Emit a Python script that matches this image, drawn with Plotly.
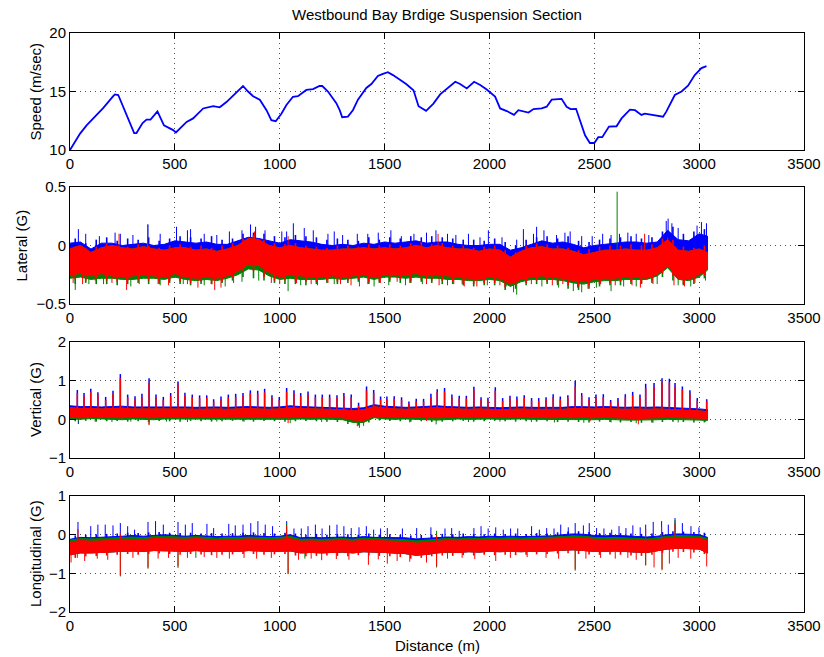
import plotly.graph_objects as go

# ---------------- data ----------------
x_ticks = [0, 500, 1000, 1500, 2000, 2500, 3000, 3500]

speed_dist = [0,48,79,127,159,206,214,230,254,286,
              306,317,346,365,384,417,429,448,476,492,
              505,524,556,587,611,635,683,714,746,786,
              825,849,873,905,937,960,981,1008,1032,1063,
              1087,1127,1159,1190,1203,1230,1270,1286,1298,1325,
              1349,1373,1397,1413,1437,1468,1492,1516,1540,1571,
              1603,1638,1662,1698,1733,1765,1797,1837,1860,1892,
              1927,1956,1987,2027,2051,2083,2117,2138,2186,2210,
              2249,2273,2297,2344,2368,2387,2413,2432,2456,2479,
              2500,2519,2538,2570,2606,2630,2670,2694,2725,2741,
              2781,2828,2844,2884,2916,2947,2979,3011,3035]
speed_val = [10.0,11.4,12.1,13.0,13.6,14.6,14.75,14.7,13.7,12.3,
             11.45,11.45,12.3,12.6,12.6,13.3,12.85,12.1,11.85,11.7,
             11.5,11.85,12.4,12.7,13.1,13.55,13.75,13.65,14.1,14.75,
             15.47,15.0,14.6,14.3,13.4,12.55,12.46,13.1,13.85,14.55,
             14.6,15.13,15.2,15.47,15.47,15.0,14.0,13.4,12.8,12.85,
             13.4,14.3,14.85,15.3,15.64,16.33,16.5,16.65,16.4,16.0,
             15.64,15.1,13.74,13.35,13.97,14.75,15.26,15.83,15.64,15.26,
             15.83,15.55,15.17,14.56,13.55,13.33,13.0,13.4,13.2,13.5,
             13.55,13.7,14.3,14.37,13.7,13.5,13.52,12.55,11.26,10.6,
             10.6,11.1,11.1,12.0,12.03,12.7,13.45,13.4,13.0,13.1,
             13.0,12.85,13.3,14.7,15.0,15.5,16.4,17.0,17.17]

# distances at which the envelopes of the noisy traces were read
env_dist = [0,50,100,150,200,250,300,350,400,450,
            500,550,600,650,700,750,800,850,900,950,
            1000,1050,1100,1150,1200,1250,1300,1350,1400,1450,
            1500,1550,1600,1650,1700,1750,1800,1850,1900,1950,
            2000,2050,2100,2150,2200,2250,2300,2350,2400,2450,
            2500,2550,2600,2650,2700,2750,2800,2850,2900,2950,
            3000,3040]
# distances (between envelope points) at which the fringe peaks were read
fringe_dist = [25,75,125,175,225,275,325,375,425,475,
               525,575,625,675,725,775,825,875,925,975,
               1025,1075,1125,1175,1225,1275,1325,1375,1425,1475,
               1525,1575,1625,1675,1725,1775,1825,1875,1925,1975,
               2025,2075,2125,2175,2225,2275,2325,2375,2425,2475,
               2525,2575,2625,2675,2725,2775,2825,2875,2925,2975,
               3025]

# ---- Lateral (G) ----
lat_blue_hi = [0.02,0.03,-0.03,0.02,0.02,0.0,0.01,0.02,0.0,0.01,
               0.04,0.03,0.02,0.03,0.01,0.01,0.04,0.07,0.06,0.04,
               0.02,0.05,0.04,0.03,0.01,0.0,0.01,0.0,0.02,0.01,
               0.03,0.02,0.03,0.04,0.02,0.03,0.03,0.01,0.0,0.0,
               0.01,0.01,-0.04,-0.02,0.01,0.04,0.02,0.03,0.01,-0.02,
               0.0,0.01,0.02,0.03,0.03,0.02,0.03,0.13,0.05,0.04,
               0.1,0.08]
lat_red_hi = [-0.03,0.0,-0.06,-0.02,0.0,-0.02,-0.03,-0.01,-0.03,-0.04,
              -0.02,-0.02,-0.04,-0.03,-0.05,-0.03,0.0,0.06,0.05,0.0,
              -0.02,0.0,-0.02,-0.03,-0.04,-0.04,-0.03,-0.03,-0.02,-0.03,
              -0.02,-0.03,-0.02,0.0,-0.02,0.0,-0.02,-0.03,-0.03,-0.05,
              -0.03,-0.04,-0.1,-0.05,-0.02,-0.01,-0.03,-0.03,-0.05,-0.08,
              -0.06,-0.04,-0.04,-0.03,-0.04,-0.04,-0.02,0.05,-0.04,-0.05,
              -0.03,-0.06]
lat_red_lo = [-0.25,-0.24,-0.26,-0.24,-0.26,-0.27,-0.26,-0.25,-0.26,-0.27,
              -0.24,-0.27,-0.28,-0.27,-0.28,-0.26,-0.22,-0.16,-0.17,-0.23,
              -0.27,-0.25,-0.26,-0.27,-0.27,-0.26,-0.27,-0.26,-0.25,-0.27,
              -0.25,-0.25,-0.25,-0.24,-0.26,-0.25,-0.26,-0.27,-0.28,-0.29,
              -0.27,-0.28,-0.33,-0.29,-0.27,-0.26,-0.27,-0.28,-0.3,-0.31,
              -0.29,-0.28,-0.28,-0.27,-0.27,-0.28,-0.25,-0.17,-0.28,-0.29,
              -0.25,-0.2]
lat_green_lo = [-0.28,-0.27,-0.29,-0.28,-0.28,-0.29,-0.29,-0.28,-0.28,-0.29,
                -0.27,-0.29,-0.3,-0.29,-0.3,-0.28,-0.25,-0.2,-0.21,-0.26,
                -0.29,-0.28,-0.29,-0.29,-0.29,-0.28,-0.29,-0.28,-0.27,-0.29,
                -0.27,-0.27,-0.28,-0.27,-0.28,-0.28,-0.29,-0.29,-0.3,-0.3,
                -0.29,-0.3,-0.35,-0.31,-0.29,-0.29,-0.29,-0.3,-0.32,-0.33,
                -0.31,-0.3,-0.3,-0.29,-0.29,-0.29,-0.26,-0.19,-0.29,-0.3,
                -0.27,-0.21]
lat_blue_fringe = [0.06,0.02,0.05,0.07,0.04,0.06,0.05,0.07,0.04,0.06,
                   0.08,0.07,0.06,0.08,0.05,0.06,0.1,0.11,0.1,0.08,
                   0.07,0.09,0.08,0.07,0.05,0.06,0.05,0.04,0.07,0.05,
                   0.07,0.06,0.08,0.07,0.08,0.07,0.06,0.05,0.05,0.04,
                   0.06,0.03,0.0,0.05,0.07,0.08,0.06,0.08,0.04,0.03,
                   0.05,0.06,0.07,0.08,0.06,0.07,0.12,0.16,0.1,0.12,
                   0.14]
lat_red_up_fringe = [0.0,-0.02,-0.01,0.02,0.0,-0.01,0.01,0.0,-0.02,0.0,
                     0.01,-0.01,0.0,-0.02,0.0,0.02,0.06,0.09,0.05,0.02,
                     0.01,0.02,0.0,-0.01,-0.02,0.0,0.0,-0.01,0.01,0.0,
                     0.01,0.0,0.02,0.03,0.01,0.02,0.0,0.0,-0.02,-0.01,
                     0.0,-0.04,-0.06,0.0,0.02,0.01,0.0,-0.02,-0.04,-0.03,
                     -0.01,0.0,0.0,0.01,0.0,0.01,0.06,0.05,-0.01,-0.02,
                     0.0]
lat_red_down_fringe = [-0.29,-0.3,-0.28,-0.3,-0.31,-0.3,-0.29,-0.3,-0.31,-0.3,
                       -0.31,-0.32,-0.31,-0.33,-0.31,-0.28,-0.22,-0.22,-0.27,-0.3,
                       -0.3,-0.3,-0.31,-0.31,-0.3,-0.31,-0.3,-0.29,-0.31,-0.3,
                       -0.29,-0.29,-0.3,-0.29,-0.3,-0.3,-0.31,-0.32,-0.33,-0.32,
                       -0.32,-0.36,-0.34,-0.32,-0.3,-0.31,-0.32,-0.34,-0.35,-0.34,
                       -0.33,-0.32,-0.31,-0.31,-0.32,-0.3,-0.24,-0.26,-0.33,-0.3,
                       -0.26]
lat_green_down_fringe = [-0.33,-0.32,-0.33,-0.33,-0.34,-0.33,-0.32,-0.33,-0.33,-0.32,
                         -0.33,-0.34,-0.33,-0.33,-0.32,-0.3,-0.27,-0.28,-0.3,-0.32,
                         -0.33,-0.33,-0.34,-0.33,-0.32,-0.33,-0.32,-0.31,-0.33,-0.32,
                         -0.31,-0.32,-0.32,-0.31,-0.32,-0.33,-0.33,-0.34,-0.35,-0.34,
                         -0.34,-0.38,-0.37,-0.34,-0.33,-0.33,-0.34,-0.37,-0.38,-0.37,
                         -0.35,-0.34,-0.34,-0.33,-0.33,-0.32,-0.27,-0.3,-0.34,-0.33,
                         -0.28]
lat_spike_base = -0.1
lat_blue_spike_x = [40,75,140,215,240,300,372,430,508,560,575,640,700,760,820,861,885,930,
                    1010,1033,1065,1117,1160,1230,1260,1300,1370,1420,1470,1530,1580,1640,1700,
                    1745,1800,1840,1900,1955,1995,2060,2130,2162,2210,2225,2260,2320,2360,2385,
                    2440,2490,2540,2580,2620,2660,2700,2760,2843,2852,2870,2900,2990,3011,3035]
lat_blue_spike_y = [0.14,0.1,0.08,0.11,0.1,0.09,0.18,0.1,0.16,0.13,0.14,0.1,0.09,0.12,0.13,0.18,0.16,0.13,
                    0.12,0.12,0.19,0.15,0.13,0.1,0.12,0.09,0.1,0.1,0.11,0.13,0.08,0.1,0.11,
                    0.13,0.1,0.09,0.1,0.07,0.13,0.07,0.05,0.14,0.1,0.16,0.13,0.09,0.11,0.12,
                    0.08,0.08,0.1,0.09,0.1,0.11,0.1,0.09,0.21,0.23,0.19,0.15,0.17,0.2,0.19]
lat_green_spike_x = [25,90,160,290,370,430,540,640,740,820,900,1040,1100,1180,1260,1380,1450,1520,
                     1600,1680,1800,1870,1990,2080,2130,2250,2330,2400,2440,2510,2580,2609,2640,
                     2700,2800,2900,2960,3030]
lat_green_spike_y = [-0.38,-0.33,-0.33,-0.35,0.18,-0.34,-0.33,-0.34,-0.35,-0.31,-0.3,-0.39,-0.34,-0.34,
                     -0.33,-0.35,-0.35,-0.34,-0.34,-0.33,-0.34,-0.33,-0.34,-0.35,-0.42,-0.35,-0.36,
                     -0.39,-0.4,-0.36,-0.39,0.46,-0.35,-0.35,-0.33,-0.34,-0.35,-0.3]
lat_red_spike_x = [15,60,120,200,234,270,330,370,420,470,560,610,690,720,780,880,960,1000,1040,1080,
                   1150,1230,1290,1340,1420,1480,1560,1620,1700,1755,1760,1830,1880,1940,2050,2115,
                   2200,2300,2350,2420,2470,2530,2600,2680,2720,2740,2780,2850,2880,2930,2980]
lat_red_spike_y = [-0.32,-0.33,-0.3,-0.32,0.1,-0.38,-0.33,0.08,-0.33,-0.34,-0.33,-0.36,-0.38,-0.36,
                   -0.32,0.12,-0.32,-0.33,0.08,-0.32,-0.33,-0.32,-0.33,-0.34,-0.33,-0.32,-0.31,-0.32,
                   -0.33,0.1,-0.34,-0.33,-0.35,-0.35,-0.34,-0.4,-0.33,-0.34,-0.33,-0.36,-0.37,-0.33,
                   -0.34,-0.34,-0.36,0.1,-0.33,0.07,-0.34,-0.35,-0.32]

# ---- Vertical (G) ----
ver_blue_hi = [0.35,0.33,0.33,0.32,0.33,0.34,0.32,0.32,0.33,0.32,
               0.33,0.32,0.31,0.32,0.32,0.31,0.32,0.33,0.32,0.31,
               0.32,0.35,0.33,0.32,0.31,0.31,0.3,0.28,0.3,0.38,
               0.34,0.32,0.31,0.32,0.33,0.35,0.33,0.32,0.31,0.32,
               0.31,0.3,0.31,0.32,0.31,0.31,0.32,0.31,0.33,0.32,
               0.32,0.33,0.32,0.31,0.32,0.31,0.32,0.31,0.3,0.29,
               0.27,0.25]
ver_red_hi = [0.3,0.28,0.28,0.27,0.28,0.29,0.27,0.27,0.28,0.27,
              0.28,0.27,0.26,0.27,0.27,0.26,0.27,0.28,0.27,0.26,
              0.27,0.3,0.28,0.27,0.26,0.26,0.25,0.22,0.25,0.33,
              0.29,0.27,0.26,0.27,0.28,0.3,0.28,0.27,0.26,0.27,
              0.26,0.25,0.26,0.27,0.26,0.26,0.27,0.26,0.28,0.27,
              0.27,0.28,0.27,0.26,0.27,0.26,0.27,0.26,0.25,0.24,
              0.22,0.2]
ver_red_lo = [0.05,0.04,0.05,0.06,0.05,0.04,0.06,0.05,0.04,0.06,
              0.05,0.06,0.05,0.06,0.05,0.06,0.05,0.05,0.06,0.05,
              0.04,0.05,0.06,0.05,0.06,0.05,0.04,-0.02,-0.03,0.08,
              0.06,0.05,0.06,0.05,0.05,0.04,0.05,0.06,0.05,0.05,
              0.06,0.05,0.05,0.06,0.05,0.05,0.04,0.05,0.04,0.05,
              0.04,0.05,0.04,0.03,0.02,0.03,0.04,0.05,0.04,0.04,
              0.03,0.02]
ver_green_lo = [0.01,0.0,0.02,0.01,0.0,-0.01,0.01,0.0,-0.01,0.01,
                0.0,0.01,0.0,0.01,0.0,0.01,0.0,0.01,0.01,0.0,
                0.0,0.0,0.01,0.0,0.01,0.0,-0.01,-0.08,-0.08,0.04,
                0.01,0.0,0.01,0.0,-0.01,-0.02,0.0,0.01,0.0,0.0,
                0.01,0.0,0.0,0.01,0.0,0.0,-0.01,0.0,-0.01,-0.01,
                -0.01,0.0,-0.01,-0.02,-0.02,-0.02,-0.01,0.0,-0.01,-0.01,
                -0.02,-0.03]
ver_green_down_fringe = [-0.05,-0.04,-0.06,-0.05,-0.04,-0.06,-0.05,-0.07,-0.04,-0.05,
                         -0.06,-0.04,-0.05,-0.06,-0.05,-0.04,-0.05,-0.06,-0.04,-0.05,
                         -0.06,-0.05,-0.04,-0.05,-0.06,-0.07,-0.12,-0.16,-0.08,-0.03,
                         -0.04,-0.05,-0.06,-0.05,-0.07,-0.06,-0.05,-0.04,-0.06,-0.05,
                         -0.04,-0.05,-0.06,-0.05,-0.06,-0.05,-0.07,-0.06,-0.07,-0.08,
                         -0.06,-0.07,-0.08,-0.07,-0.09,-0.08,-0.07,-0.06,-0.07,-0.08,
                         -0.08]
ver_spike_base = 0.15
ver_spike_x = [35,67,99,133,170,205,240,275,310,343,
               377,410,445,480,515,548,583,618,652,685,
               720,755,790,825,860,895,928,963,998,1033,
               1068,1100,1135,1170,1203,1238,1273,1306,1341,1376,
               1414,1448,1481,1511,1546,
               1581,1616,1651,1686,1721,
               1751,1786,1821,1856,1890,
               1926,1960,1993,2028,2063,
               2098,2131,2166,2201,2235,
               2270,2304,2338,2374,2409,
               2440,2475,2508,2543,2578,
               2613,2648,2683,2718,2745,
               2785,2823,2858,2885,2920,
               2956,2991,3036]
ver_blue_spike_y = [0.76,0.68,0.79,0.70,0.58,0.74,1.17,0.64,0.60,0.66,
                    1.06,0.64,0.58,0.68,0.98,0.69,0.64,0.62,0.62,0.52,
                    0.59,0.64,0.66,0.68,0.75,0.74,0.79,0.62,0.58,0.81,
                    0.75,0.68,0.72,0.64,0.64,0.64,0.62,0.68,0.64,0.43,
                    0.85,0.76,0.59,0.59,0.6,
                    0.57,0.46,0.53,0.53,0.66,
                    0.78,0.81,0.64,0.61,0.61,
                    0.84,0.57,0.56,0.83,0.55,
                    0.61,0.59,0.62,0.55,0.55,
                    0.57,0.65,0.59,0.62,1.0,
                    0.68,0.57,0.64,0.65,0.5,
                    0.55,0.65,0.71,0.64,0.92,
                    0.94,1.06,1.05,0.94,0.85,
                    0.75,0.55,0.52]
ver_red_spike_y = [0.68,0.6,0.7,0.64,0.5,0.66,1.06,0.57,0.53,0.58,
                   0.95,0.57,0.5,0.6,0.9,0.62,0.57,0.55,0.55,0.46,
                   0.52,0.56,0.58,0.62,0.68,0.66,0.7,0.55,0.5,0.72,
                   0.68,0.6,0.64,0.57,0.57,0.56,0.55,0.6,0.57,0.36,
                   0.75,0.68,0.52,0.52,0.53,
                   0.5,0.4,0.46,0.46,0.58,
                   0.7,0.72,0.57,0.54,0.54,
                   0.75,0.5,0.49,0.74,0.48,
                   0.54,0.52,0.55,0.48,0.48,
                   0.5,0.58,0.52,0.55,0.85,
                   0.6,0.5,0.56,0.57,0.44,
                   0.48,0.57,0.63,0.56,0.8,
                   0.84,0.96,0.95,0.84,0.77,
                   0.67,0.48,0.48]
ver_blue_down_x = [40]
ver_blue_down_y = [-0.12]
ver_green_down_x = [40,120,200,290,377,460,560,700,830,1050,1200,1380,1400,1620,1746,1900,
                    2050,2200,2310,2450,2580,2700,2780,2900,3030]
ver_green_down_y = [-0.08,-0.06,-0.07,-0.06,-0.13,-0.06,-0.07,-0.06,-0.06,-0.1,-0.07,-0.22,-0.17,
                    -0.08,-0.13,-0.07,-0.06,-0.07,-0.08,-0.09,-0.08,-0.1,-0.09,-0.08,-0.06]
ver_red_down_x = [377,1040,1370,1700,2480,2710]
ver_red_down_y = [-0.15,-0.1,-0.18,-0.04,-0.05,-0.13]

# ---- Longitudinal (G) ----
lon_blue_hi = [-0.12,-0.07,-0.08,-0.07,-0.06,-0.04,-0.02,-0.04,-0.02,0.0,
               -0.02,-0.04,-0.02,-0.04,-0.05,-0.04,-0.04,-0.02,-0.04,-0.05,
               -0.04,0.0,-0.08,-0.07,-0.08,-0.07,-0.06,-0.08,-0.05,-0.07,
               -0.07,-0.08,-0.08,-0.11,-0.09,-0.07,-0.06,-0.07,-0.05,-0.06,
               -0.04,-0.05,-0.04,-0.05,-0.04,-0.04,-0.03,0.0,0.02,0.01,
               -0.02,-0.03,-0.02,-0.03,-0.05,-0.06,-0.04,0.0,0.02,0.01,
               0.0,-0.07]
lon_green_hi = [-0.14,-0.1,-0.11,-0.1,-0.09,-0.07,-0.06,-0.08,-0.05,-0.04,
                -0.06,-0.07,-0.05,-0.07,-0.09,-0.07,-0.08,-0.06,-0.07,-0.08,
                -0.07,-0.04,-0.12,-0.11,-0.12,-0.11,-0.1,-0.12,-0.09,-0.1,
                -0.11,-0.12,-0.13,-0.16,-0.14,-0.12,-0.1,-0.11,-0.09,-0.1,
                -0.08,-0.09,-0.08,-0.09,-0.08,-0.08,-0.07,-0.05,-0.03,-0.04,
                -0.07,-0.08,-0.07,-0.08,-0.1,-0.11,-0.08,-0.04,-0.02,-0.03,
                -0.04,-0.1]
lon_red_hi = [-0.2,-0.15,-0.17,-0.16,-0.15,-0.12,-0.12,-0.13,-0.1,-0.1,
              -0.11,-0.12,-0.1,-0.12,-0.14,-0.12,-0.13,-0.11,-0.12,-0.13,
              -0.12,-0.1,-0.17,-0.16,-0.17,-0.16,-0.15,-0.17,-0.14,-0.15,
              -0.16,-0.17,-0.18,-0.22,-0.2,-0.17,-0.15,-0.16,-0.14,-0.15,
              -0.13,-0.14,-0.13,-0.14,-0.13,-0.13,-0.12,-0.1,-0.08,-0.09,
              -0.12,-0.13,-0.12,-0.13,-0.15,-0.16,-0.13,-0.09,-0.07,-0.08,
              -0.09,-0.15]
lon_red_lo = [-0.52,-0.47,-0.47,-0.46,-0.45,-0.43,-0.42,-0.43,-0.41,-0.41,
              -0.42,-0.43,-0.41,-0.43,-0.44,-0.43,-0.43,-0.41,-0.42,-0.43,
              -0.43,-0.42,-0.47,-0.46,-0.47,-0.46,-0.45,-0.47,-0.44,-0.45,
              -0.46,-0.47,-0.49,-0.53,-0.51,-0.47,-0.45,-0.46,-0.44,-0.45,
              -0.43,-0.44,-0.43,-0.44,-0.43,-0.43,-0.42,-0.4,-0.39,-0.41,
              -0.43,-0.43,-0.42,-0.43,-0.45,-0.46,-0.42,-0.37,-0.35,-0.36,
              -0.37,-0.47]
lon_blue_fringe = [-0.02,0.0,0.01,0.02,0.03,0.05,0.04,0.06,0.07,0.05,
                   0.04,0.05,0.03,0.04,0.03,0.04,0.05,0.06,0.04,0.03,
                   0.05,0.03,0.0,0.02,0.0,0.02,0.01,0.0,0.03,0.0,
                   0.01,0.0,-0.02,-0.01,0.0,0.02,0.01,0.03,0.02,0.01,
                   0.03,0.02,0.03,0.02,0.04,0.03,0.06,0.08,0.09,0.07,
                   0.04,0.05,0.04,0.03,0.02,0.03,0.07,0.09,0.08,0.07,
                   0.05]
lon_red_down_fringe = [-0.6,-0.56,-0.55,-0.54,-0.52,-0.5,-0.52,-0.5,-0.49,-0.5,
                       -0.52,-0.5,-0.51,-0.53,-0.52,-0.51,-0.5,-0.5,-0.52,-0.51,
                       -0.5,-0.54,-0.56,-0.55,-0.54,-0.55,-0.56,-0.53,-0.54,-0.55,
                       -0.56,-0.58,-0.62,-0.6,-0.56,-0.54,-0.55,-0.53,-0.54,-0.52,
                       -0.53,-0.52,-0.53,-0.52,-0.51,-0.5,-0.49,-0.48,-0.5,-0.51,
                       -0.52,-0.51,-0.52,-0.54,-0.55,-0.52,-0.47,-0.44,-0.45,-0.46,
                       -0.5]
lon_up_base = -0.1
lon_down_base = -0.3
lon_blue_spike_x = [38,99,133,168,205,240,275,308,372,408,445,515,550,583,653,685,757,788,825,862,
                    896,931,966,1033,1068,1103,1135,1170,1202,1238,1273,1306,1341,1378,1413,1448,
                    1481,1513,1585,1653,1721,1788,1820,1856,1926,1960,1994,2030,2066,2101,2135,
                    2201,2238,2273,2308,2340,2376,2409,2448,2476,2511,2546,2583,2618,2651,2684,
                    2719,2745,2781,2821,2853,2885,2920,2961,2999]
lon_blue_spike_y = [0.33,0.22,0.26,0.26,0.24,0.3,0.22,0.13,0.33,0.35,0.26,0.33,0.26,0.3,0.28,0.17,
                    0.28,0.24,0.26,0.3,0.35,0.26,0.22,0.35,0.16,0.16,0.22,0.26,0.16,0.24,0.26,0.22,
                    0.17,0.19,0.22,0.13,0.16,0.17,0.16,0.17,0.19,0.16,0.17,0.1,0.17,0.22,0.16,0.19,
                    0.13,0.16,0.16,0.22,0.13,0.17,0.16,0.26,0.19,0.3,0.24,0.3,0.17,0.16,0.13,0.22,
                    0.17,0.24,0.19,0.26,0.33,0.35,0.26,0.43,0.3,0.22,0.19]
lon_green_up_x = [1033, 1748, 2885]
lon_green_up_y = [0.3, 0.1, 0.38]
lon_red_up_x = [38, 240, 1033, 1748, 2745, 2821, 2885]
lon_red_up_y = [0.15, 0.05, 0.22, 0.0, 0.15, 0.2, 0.3]
lon_green_down_x = [240,372,515,600,1040,1120,1748,2409,2745,2823]
lon_green_down_y = [-1.08,-0.88,-0.86,-0.6,-1.02,-0.62,-0.85,-0.93,-0.8,-0.92]
lon_red_down_x = [5,35,70,130,180,240,300,372,420,470,515,560,640,700,760,830,890,960,1040,1090,
                  1150,1200,1270,1330,1423,1470,1513,1560,1620,1700,1748,1800,1870,1930,2030,2100,
                  2180,2270,2330,2409,2460,2530,2600,2660,2700,2745,2785,2823,2858,2900,2960,3036]
lon_red_down_y = [-0.72,-0.6,-0.68,-0.62,-0.65,-1.05,-0.6,-0.85,-0.62,-0.6,-0.82,-0.6,-0.58,-0.6,
                  -0.62,-0.6,-0.62,-0.6,-1.0,-0.65,-0.62,-0.66,-0.63,-0.65,-0.78,-0.64,-0.75,-0.68,
                  -0.7,-0.72,-0.82,-0.62,-0.6,-0.63,-0.68,-0.6,-0.58,-0.6,-0.62,-0.9,-0.62,-0.6,
                  -0.62,-0.6,-0.65,-0.78,-0.85,-0.89,-0.75,-0.6,-0.62,-0.82]

# ---------------- styling ----------------
BLUE, GREEN, RED = "#0000FF", "#008000", "#FF0000"
FONT = "Liberation Sans, Arial, Helvetica, sans-serif"
W, H = 824, 657
X0, X1 = 70, 804
panels = [(33, 150), (187, 304), (342, 458), (496, 612)]  # pixel top/bottom of each axes


def band(hi, lo, color, ax):
    return go.Scatter(x=env_dist + env_dist[::-1], y=hi + lo[::-1], fill="toself",
                      fillcolor=color, mode="lines", line=dict(color=color, width=1),
                      hoverinfo="skip", showlegend=False, xaxis="x" + ax, yaxis="y" + ax)


def spikes(xs, ys, base, color, ax, width=1.0):
    px, py = [], []
    for d, v in zip(xs, ys):
        px += [d, d, None]
        py += [base, v, None]
    return go.Scatter(x=px, y=py, mode="lines", line=dict(color=color, width=width),
                      hoverinfo="skip", showlegend=False, xaxis="x" + ax, yaxis="y" + ax)


fig = go.Figure()
fig.add_trace(go.Scatter(x=speed_dist, y=speed_val, mode="lines",
                         line=dict(color=BLUE, width=1.8), showlegend=False,
                         xaxis="x", yaxis="y"))

# Lateral
a = "2"
fig.add_trace(band(lat_blue_hi, lat_red_lo, BLUE, a))
fig.add_trace(spikes(fringe_dist, lat_blue_fringe, lat_spike_base, BLUE, a, 1.6))
fig.add_trace(spikes(lat_blue_spike_x, lat_blue_spike_y, lat_spike_base, BLUE, a))
fig.add_trace(band(lat_red_hi, lat_green_lo, GREEN, a))
fig.add_trace(spikes(fringe_dist, lat_green_down_fringe, lat_spike_base, GREEN, a, 1.6))
fig.add_trace(spikes(lat_green_spike_x, lat_green_spike_y, lat_spike_base, GREEN, a))
fig.add_trace(band(lat_red_hi, lat_red_lo, RED, a))
fig.add_trace(spikes(fringe_dist, lat_red_up_fringe, lat_spike_base, RED, a, 1.6))
fig.add_trace(spikes(fringe_dist, lat_red_down_fringe, lat_spike_base, RED, a, 1.6))
fig.add_trace(spikes(lat_red_spike_x, lat_red_spike_y, lat_spike_base, RED, a))

# Vertical
a = "3"
fig.add_trace(band(ver_blue_hi, ver_red_lo, BLUE, a))
fig.add_trace(spikes(ver_spike_x, ver_blue_spike_y, ver_spike_base, BLUE, a, 1.5))
fig.add_trace(spikes(ver_blue_down_x, ver_blue_down_y, ver_spike_base, BLUE, a))
fig.add_trace(band(ver_red_hi, ver_green_lo, GREEN, a))
fig.add_trace(spikes(fringe_dist, ver_green_down_fringe, ver_spike_base, GREEN, a, 1.6))
fig.add_trace(spikes(ver_green_down_x, ver_green_down_y, ver_spike_base, GREEN, a))
fig.add_trace(band(ver_red_hi, ver_red_lo, RED, a))
fig.add_trace(spikes(ver_spike_x, ver_red_spike_y, ver_spike_base, RED, a, 1.5))
fig.add_trace(spikes(ver_red_down_x, ver_red_down_y, ver_spike_base, RED, a))

# Longitudinal
a = "4"
fig.add_trace(band(lon_blue_hi, lon_red_lo, BLUE, a))
fig.add_trace(spikes(fringe_dist, lon_blue_fringe, lon_up_base, BLUE, a, 1.6))
fig.add_trace(spikes(lon_blue_spike_x, lon_blue_spike_y, lon_up_base, BLUE, a))
fig.add_trace(band(lon_green_hi, lon_red_lo, GREEN, a))
fig.add_trace(spikes(lon_green_up_x, lon_green_up_y, lon_up_base, GREEN, a))
fig.add_trace(spikes(lon_green_down_x, lon_green_down_y, lon_down_base, GREEN, a))
fig.add_trace(band(lon_red_hi, lon_red_lo, RED, a))
fig.add_trace(spikes(fringe_dist, lon_red_down_fringe, lon_down_base, RED, a, 1.6))
fig.add_trace(spikes(lon_red_up_x, lon_red_up_y, lon_down_base, RED, a))
fig.add_trace(spikes(lon_red_down_x, lon_red_down_y, lon_down_base, RED, a))

y_ranges = [[10, 20], [-0.5, 0.5], [-1, 2], [-2, 1]]
y_ticks = [[10, 15, 20], [-0.5, 0, 0.5], [-1, 0, 1, 2], [-2, -1, 0, 1]]
y_titles = ["Speed (m/sec)", "Lateral (G)", "Vertical (G)", "Longitudinal (G)"]
y_title_px = [35, 21, 35, 35]

layout = dict(width=W, height=H, margin=dict(l=0, r=0, t=0, b=0, autoexpand=False),
              autosize=False, paper_bgcolor="white", plot_bgcolor="white",
              font=dict(family=FONT, size=15, color="black"), showlegend=False)
common = dict(showline=True, linecolor="black", linewidth=1, mirror="ticks",
              ticks="inside", ticklen=6, tickwidth=1, tickcolor="black",
              showgrid=True, gridcolor="#505050", gridwidth=1, griddash="1px,4px",
              zeroline=False, tickfont=dict(family=FONT, size=15, color="black"))
annotations = []
for i, (top, bot) in enumerate(panels):
    s = "" if i == 0 else str(i + 1)
    layout["xaxis" + s] = dict(common, domain=[X0 / W, X1 / W], anchor="y" + s,
                               range=[0, 3500], tickvals=x_ticks)
    layout["yaxis" + s] = dict(common, domain=[1 - bot / H, 1 - top / H], anchor="x" + s,
                               range=y_ranges[i], tickvals=y_ticks[i])
    annotations.append(dict(text=y_titles[i], xref="paper", yref="paper",
                            x=y_title_px[i] / W, y=1 - (top + bot) / 2 / H,
                            textangle=-90, showarrow=False, xanchor="center", yanchor="middle",
                            font=dict(family=FONT, size=15, color="black")))
annotations.append(dict(text="Westbound Bay Brdige Suspension Section", xref="paper", yref="paper",
                        x=(X0 + X1) / 2 / W, y=1 - 15 / H, showarrow=False,
                        xanchor="center", yanchor="middle",
                        font=dict(family=FONT, size=15, color="black")))
annotations.append(dict(text="Distance (m)", xref="paper", yref="paper",
                        x=(X0 + X1) / 2 / W, y=1 - 645 / H, showarrow=False,
                        xanchor="center", yanchor="middle",
                        font=dict(family=FONT, size=15, color="black")))
layout["annotations"] = annotations
fig.update_layout(**layout)
# remove the page's default body margin so the figure fills the window exactly
fig.write_html("out.html", config={"displayModeBar": False},
               post_script="document.body.style.margin='0';document.body.style.overflow='hidden';")
